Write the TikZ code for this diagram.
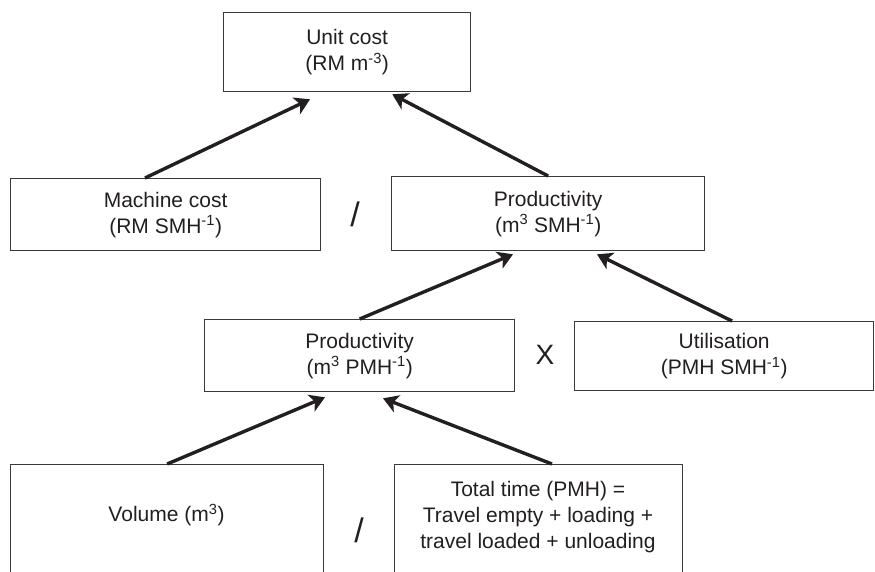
\documentclass[tikz,border=0pt]{standalone}
\usepackage{fontspec}
\setmainfont{Liberation Sans}
\usetikzlibrary{arrows.meta}
\definecolor{ink}{HTML}{231F20}
\definecolor{edge}{HTML}{3A3A3A}
\begin{document}
\begin{tikzpicture}[x=1pt,y=-1pt,
  box/.style={draw=edge, line width=1.3pt, fill=white, inner sep=0pt, align=center,
    font=\fontsize{21}{26}\selectfont, text=ink, anchor=north west},
  lbl/.style={inner sep=0pt, align=center, font=\fontsize{21}{26}\selectfont, text=ink},
  op/.style={inner sep=0pt, text=ink},
  arr/.style={draw=ink, line width=3.4pt, -{Stealth[length=15pt,width=18pt,inset=4pt]}}]
\useasboundingbox (0,0) rectangle (875,571);
\clip (0,0) rectangle (875,571);
\node[box, minimum width=247pt, minimum height=79pt] (top) at (223,12) {Unit cost\\(RM m\textsuperscript{-3})};
\node[box, minimum width=310pt, minimum height=72pt] (mc) at (10,178) {Machine cost\\(RM SMH\textsuperscript{-1})};
\node[box, minimum width=313pt, minimum height=74pt] (p1) at (391,176) {Productivity\\(m\textsuperscript{3} SMH\textsuperscript{-1})};
\node[box, minimum width=310pt, minimum height=72pt] (p2) at (204,319) {Productivity\\(m\textsuperscript{3} PMH\textsuperscript{-1})};
\node[box, minimum width=299pt, minimum height=69pt] (ut) at (574,321) {Utilisation\\(PMH SMH\textsuperscript{-1})};
\node[box, minimum width=313pt, minimum height=140pt] (vol) at (10,464) {};
\node[box, minimum width=288pt, minimum height=140pt] (tt) at (394,464) {};
\node[lbl] (voltxt) at (166.5,515) {Volume (m\textsuperscript{3})};
\node[lbl] (tttxt) at (538,517) {Total time (PMH) =\\Travel empty + loading +\\travel loaded + unloading};
\node[op, font=\fontsize{34}{34}\selectfont] (div1) at (355,214) {/};
\node[op, font=\fontsize{34}{34}\selectfont] (div2) at (359,530) {/};
\node[op, font=\fontsize{28}{28}\selectfont] (mul) at (545,355) {X};
\draw[arr] ([xshift=135pt]mc.north west) -- ([xshift=87pt,yshift=-7pt]top.south west);
\draw[arr] (p1.north) -- ([xshift=-79pt,yshift=-2pt]top.south east);
\draw[arr] ([xshift=158pt]ut.north west) -- ([xshift=206pt,yshift=-3pt]p1.south west);
\draw[arr] (p2.north) -- ([xshift=122pt,yshift=-3pt]p1.south west);
\draw[arr] (vol.north) -- ([xshift=121pt,yshift=-5pt]p2.south west);
\draw[arr] ([xshift=158pt]tt.north west) -- ([xshift=179pt,yshift=-6pt]p2.south west);
\end{tikzpicture}
\end{document}
